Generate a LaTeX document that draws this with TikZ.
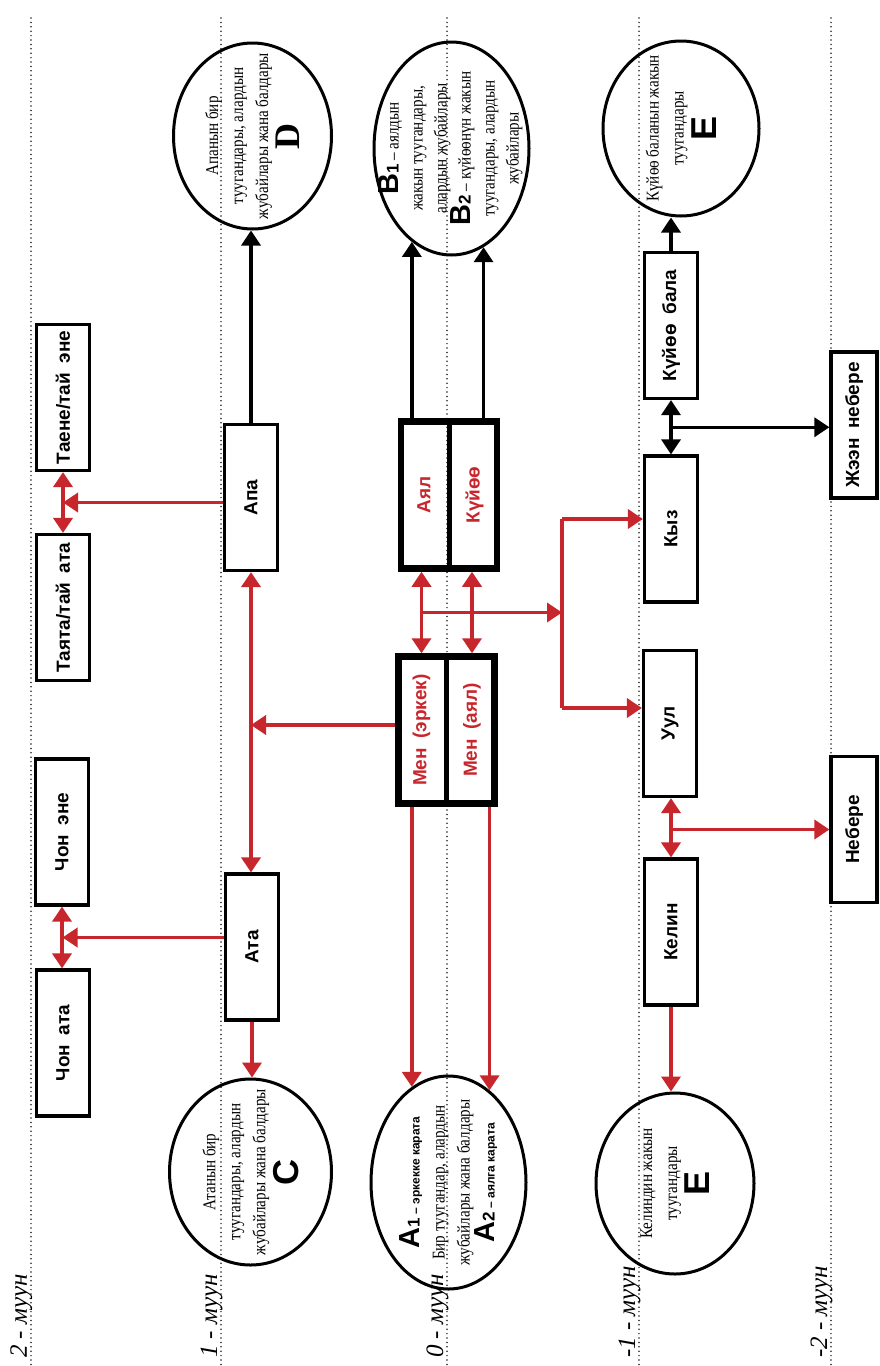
\documentclass[tikz,border=0pt]{standalone}
\usepackage{fontspec}
\setmainfont{Liberation Serif}
\newfontfamily\condserif[FakeStretch=0.84]{Liberation Serif}
\newfontfamily\sansf{Liberation Sans}
\usetikzlibrary{arrows.meta,shapes.geometric,calc}
\definecolor{kred}{RGB}{200,38,45}
\newcommand\kbigL{\sansf\bfseries\fontsize{29}{24}\selectfont}
\newcommand\ksmD{\sansf\bfseries\fontsize{17}{24}\selectfont}
\newcommand\ksmB{\sansf\bfseries\fontsize{12}{25}\selectfont}
\newcommand\kletter{\sansf\bfseries\fontsize{36}{36}\selectfont}
\tikzset{
  genline/.style={line width=1.7pt, dash pattern=on 0pt off 4.4pt, line cap=round, color=black!85},
  kbox/.style={draw, line width=3.2pt, minimum width=53pt, minimum height=146pt, inner sep=0pt},
  kgroup/.style={draw, line width=6.5pt, minimum width=96pt, minimum height=147pt, inner sep=0pt},
  blbl/.style={rotate=90, inner sep=0pt, font=\sansf\bfseries\fontsize{19}{20}\selectfont},
  rlbl/.style={blbl, text=kred},
  kell/.style={draw, ellipse, line width=3pt, inner sep=0pt},
  etext/.style={rotate=90, align=center, inner sep=0pt, font=\condserif\fontsize{18}{25}\selectfont},
  ktip/.tip={Triangle[width=19pt,length=15pt]},
  rline/.style={draw=kred, line width=3.6pt},
  bline/.style={draw=black, line width=3.4pt},
  rarr/.style={rline, -ktip},
  rdbl/.style={rline, ktip-ktip},
  barr/.style={bline, -ktip},
  bdbl/.style={bline, ktip-ktip},
  glbl/.style={rotate=90, anchor=base west, inner sep=0pt, font=\itshape\fontsize{25}{26}\selectfont},
}
\begin{document}
\begin{tikzpicture}[x=1pt, y=-1pt]
\useasboundingbox (0,0) rectangle (880,1366);
\fill[white] (0,0) rectangle (880,1366);

% generation lines and labels
\foreach \gx/\gn/\gl in {31/a/2 - муун, 221/b/1 - муун, 447/c/0 - муун, 639/d/-1 - муун, 831/e/-2 - муун}{
  \draw[genline] (\gx,18) -- (\gx,1366);
  \node[glbl] (gen\gn) at (\gx-4,1358) {\gl};
}

% boxes, generation 2
\node[kbox] (chonata) at (63,1043) {};
\node[blbl] (chonatat) at (chonata) {Чон\enspace ата};
\node[kbox] (chonene) at (62,832) {};
\node[blbl] (chonenet) at (chonene) {Чон\enspace эне};
\node[kbox] (tayata) at (63,607.5) {};
\node[blbl] (tayatat) at (tayata) {Таята/тай\enspace ата};
\node[kbox] (tayene) at (63,397.5) {};
\node[blbl] (tayenet) at (tayene) {Таене/тай\enspace эне};

% generation 1
\node[kbox] (ata) at (252,947) {};
\node[blbl] (atat) at (ata) {Ата};
\node[kbox] (apa) at (251,497.5) {};
\node[blbl] (apat) at (apa) {Апа};

% generation 0
\node[kgroup] (ayal) at (449,495) {};
\draw[line width=5pt] (ayal.north) -- (ayal.south);
\node[rlbl] (ayalt) at (424,495) {Аял};
\node[rlbl] (kuyoot) at (474.5,495) {Күйөө};
\node[kgroup] (men) at (446.5,730) {};
\draw[line width=5pt] (men.north) -- (men.south);
\node[rlbl] (menMt) at (421.5,730) {Мен\enspace(эркек)};
\node[rlbl] (menFt) at (472,730) {Мен\enspace(аял)};
\coordinate (menArrow) at (421.5,725);

% generation -1
\node[kbox] (kuyoobala) at (671,325.5) {};
\node[blbl] (kuyoobalat) at (kuyoobala) {Күйөө\enspace бала};
\node[kbox] (kyz) at (671,529) {};
\node[blbl] (kyzt) at (kyz) {Кыз};
\node[kbox] (uul) at (670,723.5) {};
\node[blbl] (uult) at (uul) {Уул};
\node[kbox] (kelin) at (671,932) {};
\node[blbl] (kelint) at (kelin) {Келин};

% generation -2
\node[kbox, minimum width=46pt] (zheen) at (854,425) {};
\node[blbl] (zheent) at (zheen) {Жээн\enspace небере};
\node[kbox, minimum width=46pt] (nebere) at (854,829.5) {};
\node[blbl] (neberet) at (nebere) {Небере};

% ellipses
\node[kell, minimum width=158pt, minimum height=186pt] (D) at (252.5,136) {};
\node[etext] (Dt) at (D) {Апанын бир\\ туугандары, алардын\\ жубайлары жана балдары\\[3pt] {\rmfamily\bfseries\fontsize{36}{36}\selectfont D}};
\node[kell, minimum width=162pt, minimum height=186pt] (C) at (250.5,1172) {};
\node[etext] (Ct) at (C) {Атанын бир\\ туугандары, алардын\\ жубайлары жана балдары\\[3pt] {\kletter C}};
\node[kell, minimum width=155pt, minimum height=213pt] (B) at (451.5,148.5) {};
\node[etext, font=\condserif\fontsize{18}{24}\selectfont] (Bt) at ($(B)+(-1,0)$) {{\kbigL B\ksmD 1} – аялдын\\ жакын туугандары,\\ алардын жубайлары\\ {\kbigL B\ksmD 2} – күйөөнүн жакын\\ туугандары, алардын\\ жубайлары};
\node[kell, minimum width=155pt, minimum height=213pt] (A) at (448.5,1182.5) {};
\node[etext] (At) at (A) {{\kbigL A\ksmD 1}{\ksmB\ – эркекке карата}\\ Бир туугандар, алардын\\ жубайлары жана балдары\\ {\kbigL A\ksmD 2}{\ksmB\ – аялга карата}};
\node[kell, minimum width=156pt, minimum height=175pt] (Etop) at (681,128.5) {};
\node[etext] (Etopt) at (Etop) {Күйөө баланын жакын\\ туугандары\\[3pt] {\kletter E}};
\node[kell, minimum width=158pt, minimum height=181pt] (Ebot) at (675,1183.5) {};
\node[etext] (Ebott) at (Ebot) {Келиндин жакын\\ туугандары\\[3pt] {\kletter E}};

% connectors: generation 2
\coordinate (jT) at ($(tayene.south)!0.5!(tayata.north)$);
\draw[rdbl] (tayene.south) -- (tayata.north);
\draw[rarr] (apa.west |- jT) -- (jT);
\coordinate (jC) at ($(chonene.south)!0.5!(chonata.north)$);
\draw[rdbl] (chonene.south) -- (chonene.south |- chonata.north);
\draw[rarr] (ata.west |- jC) -- (jC);

% generation 1
\draw[rdbl] (apa.south) -- (apa.south |- ata.north);
\draw[rarr] (men.west |- menArrow) -- (apa.south |- menArrow);
\draw[rarr] (ata.south) -- (ata.south |- C.north);
\draw[barr] (apa.north) -- (apa.north |- D.south);

% generation 0
\draw[barr] (ayal.north -| B.-113) -- (B.-113);
\draw[barr] (ayal.north -| B.-72) -- (B.-72);
\draw[rarr] (men.south -| A.111) -- (A.111);
\draw[rarr] (men.south -| A.66) -- (A.66);
\draw[rdbl] (ayal.south -| menMt) -- (men.north -| menMt);
\draw[rdbl] (ayal.south -| menFt) -- (men.north -| menFt);
\coordinate (hL) at ($(ayal.south -| menMt)!0.5!(men.north -| menMt)$);
\coordinate (split) at (562,612.5);
\coordinate (sK) at (562,519);
\coordinate (sU) at (562,708);
\draw[rarr] (hL) -- (split);
\draw[rline] (sK) -- (sU);
\draw[rarr] (sK) -- (kyz.west |- sK);
\draw[rarr] (sU) -- (uul.west |- sU);

% generation -1
\draw[bdbl] (kuyoobala.south) -- (kyz.north);
\coordinate (jK) at ($(kuyoobala.south)!0.5!(kyz.north)$);
\draw[barr] (jK) -- (zheen.west |- jK);
\draw[barr] (kuyoobala.north) -- (kuyoobala.north |- Etop.south);
\draw[rdbl] (kelin.north |- uul.south) -- (kelin.north);
\coordinate (jU) at (kelin.north |- nebere.west);
\draw[rarr] (jU) -- (nebere.west);
\draw[rarr] (kelin.south) -- (kelin.south |- Ebot.north);
\end{tikzpicture}
\end{document}
